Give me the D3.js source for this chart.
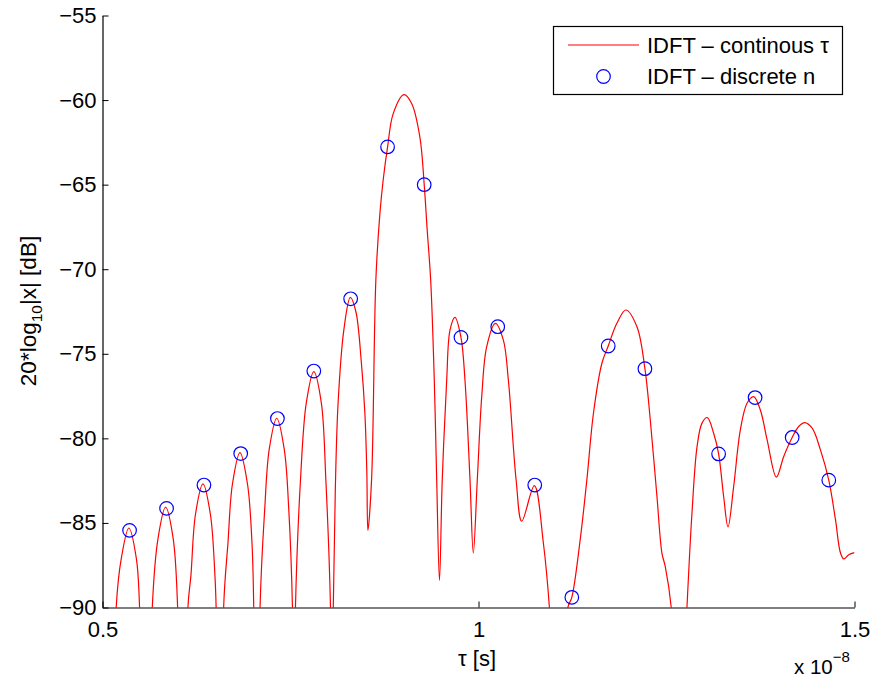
<!DOCTYPE html>
<html>
<head>
<meta charset="utf-8">
<script src="https://cdn.jsdelivr.net/npm/d3@7"></script>
<style>
    body { margin: 0; background: #fff; }
    svg text { font-family: "Liberation Sans", Arial, Helvetica, sans-serif; fill: #000; }
</style>
</head>
<body>
<svg id="chart" width="872" height="678"></svg>
<script>
'use strict';

// tau in units of 1e-8 s, level in dB
const curveTau = [
    0.5000, 0.5104, 0.5182, 0.5250, 0.5350, 0.5450, 0.5493, 0.5593,
    0.5662, 0.5739, 0.5839, 0.5939, 0.5999, 0.6085,
    0.6136, 0.6176, 0.6236, 0.6336, 0.6435, 0.6495, 0.6511, 0.6578,
    0.6611, 0.6668, 0.6728, 0.6828, 0.6928, 0.6988, 0.7011, 0.7051,
    0.7095, 0.7157, 0.7217, 0.7317, 0.7417, 0.7477, 0.7526, 0.7546,
    0.7566, 0.7633, 0.7710, 0.7810, 0.7910, 0.7970, 0.8032, 0.8056,
    0.8069, 0.8096, 0.8133, 0.8209, 0.8296, 0.8369, 0.8442, 0.8489, 0.8515, 0.8529,
    0.8578, 0.8635, 0.8689, 0.8732, 0.8791, 0.8866, 0.9008, 0.9111, 0.9221, 0.9278,
    0.9318, 0.9364, 0.9412, 0.9444, 0.9481,
    0.9518, 0.9577, 0.9621, 0.9687, 0.9767, 0.9820, 0.9887, 0.9931,
    0.9984, 1.0043, 1.0109, 1.0224, 1.0330, 1.0397, 1.0500, 1.0575, 1.0743, 1.0863, 1.0943, 1.1059,
    1.1188, 1.1241, 1.1352, 1.1441, 1.1529, 1.1641, 1.1725, 1.1840, 1.1960, 1.2107, 1.2213,
    1.2284, 1.2373, 1.2439, 1.2483, 1.2563, 1.2670,
    1.2772, 1.2839, 1.2906, 1.2972, 1.3043, 1.3127, 1.3193, 1.3260, 1.3318, 1.3393, 1.3482,
    1.3571, 1.3659, 1.3748, 1.3838, 1.3961, 1.4059, 1.4171, 1.4258, 1.4338, 1.4437, 1.4547,
    1.4658, 1.4747, 1.4814, 1.4858, 1.4924, 1.5000
];
const curveDb = [
    -110, -115, -90, -87.1, -85.3, -87.1, -90, -115,
    -90, -85.9, -84.06, -85.9, -90, -115,
    -90, -88.1, -84.5, -82.69, -84.5, -88.1, -90, -115,
    -90, -86.2, -82.7, -80.84, -82.7, -86.2, -90, -115,
    -90, -84.2, -80.65, -78.81, -80.65, -84.2, -90, -100,
    -90, -82.45, -77.9, -76.05, -77.9, -82.45, -90, -100,
    -90, -83, -77.9, -73.6, -71.67, -72.5, -75.5, -78.5, -82, -85.44,
    -82.45, -70.64, -66.7, -64.74, -62.77, -60.8, -59.68, -60.2, -62.2, -65.0,
    -67.7, -70.64, -76.55, -82.45, -88.4,
    -82.45, -76.55, -73.6, -72.85, -74.03, -76.55, -82.45, -86.78,
    -82.45, -77.53, -74.58, -73.2, -74.18, -76.55, -82.45, -84.9, -82.8, -86.2, -90, -100,
    -90, -89.4, -86.0, -82.45, -78.5, -75.56, -74.54, -73.2, -72.41, -73.4, -75.88,
    -78.9, -83.44, -86.78, -87.57, -90, -100,
    -90, -84.4, -80.5, -79.1, -78.77, -79.7, -80.92, -83.44, -85.24, -82.85, -79.5,
    -77.92, -77.53, -78.32, -80.09, -82.29, -81.07, -79.95, -79.3, -79.07, -79.4, -80.68,
    -82.47, -84.81, -86.78, -87.13, -86.88, -86.76
];

// discrete samples n
const sampleTau = [
    0.5360, 0.5852, 0.6349, 0.6838, 0.7326, 0.7810, 0.8300, 0.8791, 0.9278, 0.9767,
    1.0256, 1.0748, 1.1241, 1.1725, 1.2213, 1.3193, 1.3678, 1.4171, 1.4658
];
const sampleDb = [
    -85.44, -84.14, -82.76, -80.9, -78.83, -76.02, -71.75, -62.77, -65.0, -74.03,
    -73.4, -82.76, -89.4, -74.54, -75.88, -80.92, -77.59, -79.95, -82.47
];

const xTicks = [0.5, 1, 1.5];
const yTicks = [-90, -85, -80, -75, -70, -65, -60, -55];
const legendLabels = ["IDFT \u2013 continous \u03c4", "IDFT \u2013 discrete n"];

const _left = 102.5, _right = 854.5, _top = 15.5, _bottom = 607.5;
const _fontSize = 22;

const svg = d3.select("#chart");

const x = d3.scaleLinear().domain([0.5, 1.5]).range([_left, _right]);
const y = d3.scaleLinear().domain([-90, -55]).range([_bottom, _top]);

svg.append("defs").append("clipPath").attr("id", "plotClip")
    .append("rect")
    .attr("x", _left).attr("y", 0)
    .attr("width", _right - _left).attr("height", _bottom);

// continuous curve
const line = d3.line()
    .x(function (d, i) { return x(curveTau[i]); })
    .y(function (d) { return y(d); })
    .curve(d3.curveCatmullRom.alpha(0.5));

svg.append("path")
    .datum(curveDb)
    .attr("clip-path", "url(#plotClip)")
    .attr("d", line)
    .attr("fill", "none")
    .attr("stroke", "#ff0000")
    .attr("stroke-width", 1.2);

// sample markers
svg.append("g").selectAll("circle")
    .data(sampleDb)
    .join("circle")
    .attr("cx", function (d, i) { return x(sampleTau[i]); })
    .attr("cy", function (d) { return y(d); })
    .attr("r", 6.8)
    .attr("fill", "none")
    .attr("stroke", "#0000ff")
    .attr("stroke-width", 1.2);

// axes (ticks point inside, no box)
const xAxis = svg.append("g")
    .attr("transform", "translate(0," + _bottom + ")")
    .call(d3.axisBottom(x).tickValues(xTicks).tickFormat(d3.format("")).tickSizeInner(-6).tickSizeOuter(0).tickPadding(14));

const yAxis = svg.append("g")
    .attr("transform", "translate(" + _left + ",0)")
    .call(d3.axisLeft(y).tickValues(yTicks).tickSizeInner(-6).tickSizeOuter(0).tickPadding(6));

[xAxis, yAxis].forEach(function (g) {
    g.select(".domain").attr("stroke", "#000").attr("stroke-width", 1.2);
    g.selectAll(".tick line").attr("stroke", "#000");
    g.selectAll(".tick text").attr("font-size", _fontSize).attr("fill", "#000");
});

// axis labels
svg.append("text")
    .attr("x", 477).attr("y", 666)
    .attr("text-anchor", "middle")
    .attr("font-size", _fontSize)
    .text("\u03c4 [s]");

const yLabel = svg.append("text")
    .attr("transform", "translate(36," + 311 + ") rotate(-90)")
    .attr("text-anchor", "middle")
    .attr("font-size", 22.5);
yLabel.append("tspan").text("20*log");
yLabel.append("tspan").attr("font-size", 15.5).attr("dy", 6).text("10");
yLabel.append("tspan").attr("dy", -6).text("|x| [dB]");

// exponent note
const expo = svg.append("text")
    .attr("x", 794).attr("y", 674)
    .attr("font-size", 20.5);
expo.append("tspan").text("x 10");
expo.append("tspan").attr("font-size", 15).attr("dy", -12).text("\u22128");

// legend
const legend = svg.append("g");
legend.append("rect")
    .attr("x", 553.5).attr("y", 26.5)
    .attr("width", 289).attr("height", 68)
    .attr("fill", "#fff")
    .attr("stroke", "#000")
    .attr("stroke-width", 1.2);
legend.append("line")
    .attr("x1", 568).attr("x2", 639)
    .attr("y1", 45).attr("y2", 45)
    .attr("stroke", "#ff0000")
    .attr("stroke-width", 1.2);
legend.append("circle")
    .attr("cx", 603.5).attr("cy", 76.5).attr("r", 6.8)
    .attr("fill", "none")
    .attr("stroke", "#0000ff")
    .attr("stroke-width", 1.2);
legend.selectAll("text.lab")
    .data(legendLabels)
    .join("text")
    .attr("class", "lab")
    .attr("x", 647)
    .attr("y", function (d, i) { return 53 + i * 31; })
    .attr("font-size", _fontSize)
    .text(function (d) { return d; });
</script>
</body>
</html>
